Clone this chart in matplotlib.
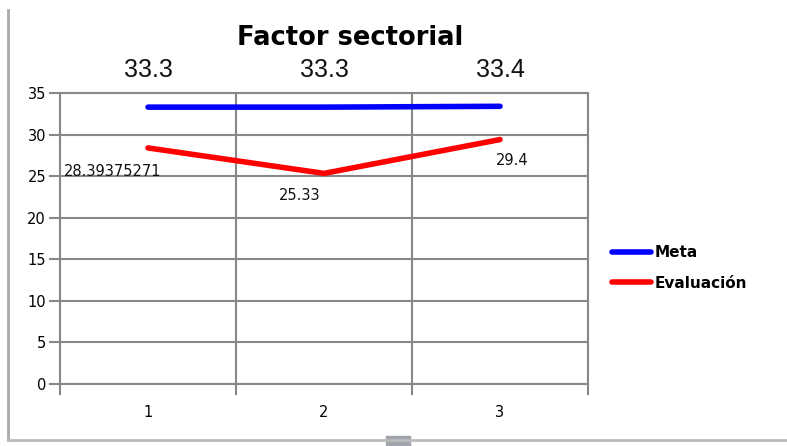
import matplotlib.pyplot as plt
from matplotlib.lines import Line2D
from matplotlib.patches import Rectangle

categories = [1, 2, 3]
meta = [33.3, 33.3, 33.4]
evaluacion = [28.39375271, 25.33, 29.4]
meta_labels = ['33.3', '33.3', '33.4']
eval_labels = ['28.39375271', '25.33', '29.4']

fig = plt.figure(figsize=(7.87, 4.46), dpi=100)
ax = fig.add_axes([60 / 787, 1 - 384 / 446, 528 / 787, 291 / 446])

ax.plot(categories, meta, color='#0000ff', lw=4, solid_capstyle='round', label='Meta')
ax.plot(categories, evaluacion, color='#ff0000', lw=4, solid_capstyle='round', label='Evaluación')

ax.set_xlim(0.5, 3.5)
ax.set_ylim(0, 35)
ax.set_yticks(range(0, 36, 5))
ax.set_xticks(categories)
ax.set_xticks([0.5, 1.5, 2.5, 3.5], minor=True)
ax.tick_params(axis='x', which='major', length=0, pad=15, labelsize=10.5)
ax.tick_params(axis='x', which='minor', length=8, color='#888888', width=1.5)
ax.tick_params(axis='y', length=8, color='#888888', width=1.5, labelsize=10.5, pad=2)
ax.grid(True, which='minor', axis='x', color='#888888', lw=1.5)
ax.grid(True, which='major', axis='y', color='#888888', lw=1.5)
ax.set_axisbelow(True)
for s in ax.spines.values():
    s.set_color('#888888')
    s.set_linewidth(1.5)

# Meta labels above the plot area
for x, t in zip(categories, meta_labels):
    ax.text(x, 36.3, t, ha='center', va='bottom', fontsize=18,
            family='Liberation Sans', color='#111111', clip_on=False)

# Evaluación labels
eval_pos = [(0.80, 25.6), (1.86, 22.7), (3.07, 26.9)]
for (x, y), t in zip(eval_pos, eval_labels):
    ax.text(x, y, t, ha='center', va='center', fontsize=10.5, color='#111111')

fig.text(350 / 787, 1 - 38 / 446, 'Factor sectorial', ha='center', va='center',
         fontsize=18.5, fontweight='bold')

leg = fig.legend(loc='center left', bbox_to_anchor=(598 / 787, 1 - 268 / 446),
                 frameon=False, prop={'weight': 'bold', 'size': 11},
                 handlelength=2.6, handletextpad=0.2, labelspacing=1.0)

# outer frame of the chart object
fig.add_artist(Line2D([8 / 787, 8 / 787], [1 - 440 / 446, 1 - 10 / 446],
                      transform=fig.transFigure, color='#aaaaaa', lw=2))
fig.add_artist(Line2D([8 / 787, 1], [1 - 440 / 446, 1 - 440 / 446],
                      transform=fig.transFigure, color='#bbbbbb', lw=2))
fig.add_artist(Rectangle((386 / 787, 1 - 446 / 446), 24 / 787, 10 / 446,
                         transform=fig.transFigure, color='#a0a4ad'))

fig.savefig('out.png', dpi=100)
